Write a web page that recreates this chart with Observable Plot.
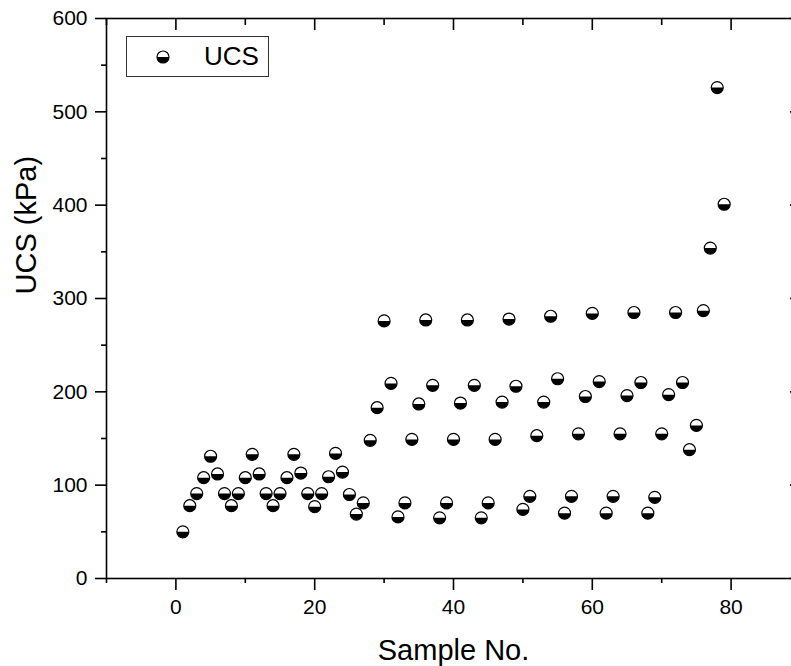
<!DOCTYPE html>
<html>
<head>
<meta charset="utf-8">
<script src="https://cdn.jsdelivr.net/npm/d3@7"></script>
<script src="https://cdn.jsdelivr.net/npm/@observablehq/plot@0.6"></script>
<style>
  html, body { margin: 0; padding: 0; background: #fff; overflow: hidden; }
  #wrap { position: relative; width: 791px; height: 666px; overflow: hidden; font-family: "Liberation Sans", Arial, sans-serif; }
  #legend { position: absolute; left: 126px; top: 36px; width: 141px; height: 39px; border: 1px solid #333; background: #fff; }
  #legend svg { position: absolute; left: 28px; top: 12px; }
  #legend span { position: absolute; left: 77px; top: 4px; font-size: 26px; line-height: 30px; color: #000; }
</style>
</head>
<body>
<div id="wrap">
  <div id="chart"></div>
  <div id="legend">
    <svg width="16" height="16" viewBox="-8 -8 16 16">
      <circle r="6" fill="#fff" stroke="#000" stroke-width="1.2"></circle>
      <path d="M6,0A6,6 0 0 1 -6,0Z" fill="#000"></path>
    </svg>
    <span>UCS</span>
  </div>
</div>
<script>
// ---- data ----
const samples = [1,2,3,4,5,6,7,8,9,10,11,12,13,14,15,16,17,18,19,20,21,22,23,24,25,26,27,28,29,30,
  31,32,33,34,35,36,37,38,39,40,41,42,43,44,45,46,47,48,49,50,51,52,53,54,55,56,57,58,59,60,
  61,62,63,64,65,66,67,68,69,70,71,72,73,74,75,76,77,78,79];
const ucsValues = [50,78,91,108,131,112,91,78,91,108,133,112,91,78,91,108,133,113,91,77,91,109,134,114,90,69,81,148,183,276,
  209,66,81,149,187,277,207,65,81,149,188,277,207,65,81,149,189,278,206,74,88,153,189,281,214,70,88,155,195,284,
  211,70,88,155,196,285,210,70,87,155,197,285,210,138,164,287,354,526,401];
const xMajorTicks = [0, 20, 40, 60, 80];
const xMinorTicks = [-10, 10, 30, 50, 70, 90];
const yMajorTicks = [0, 100, 200, 300, 400, 500, 600];
const yMinorTicks = [50, 150, 250, 350, 450, 550];
const xTitle = "Sample No.";
const yTitle = "UCS (kPa)";

const data = samples.map((s, i) => ({sample: s, ucs: ucsValues[i]}));

const lowerHalf = {
  draw(ctx, size) {
    const r = Math.sqrt(size / Math.PI);
    ctx.moveTo(r, 0);
    ctx.arc(0, 0, r, 0, Math.PI);
    ctx.closePath();
  }
};
const blank = () => "";
const font = "'Liberation Sans', Arial, sans-serif";

const chart = Plot.plot({
  width: 791,
  height: 666,
  marginLeft: 106,
  marginRight: -9,
  marginTop: 18,
  marginBottom: 88,
  style: {fontFamily: font, background: "white", color: "black"},
  x: {domain: [-10, 90]},
  y: {domain: [0, 600]},
  marks: [
    Plot.frame({stroke: "black", strokeWidth: 1.6}),
    Plot.axisX({ticks: xMajorTicks, tickSize: 12, tickPadding: 9, fontSize: 21, label: null, strokeWidth: 1.6}),
    Plot.axisX({ticks: xMinorTicks, tickSize: 5, tickFormat: blank, label: null, strokeWidth: 1.6}),
    Plot.axisX({anchor: "top", ticks: xMajorTicks, tickSize: -11, tickFormat: blank, label: null, strokeWidth: 1.6}),
    Plot.axisX({anchor: "top", ticks: xMinorTicks, tickSize: -6, tickFormat: blank, label: null, strokeWidth: 1.6}),
    Plot.axisY({ticks: yMajorTicks, tickSize: 11, tickPadding: 8, fontSize: 21, label: null, strokeWidth: 1.6}),
    Plot.axisY({ticks: yMinorTicks, tickSize: 5, tickFormat: blank, label: null, strokeWidth: 1.6}),
    Plot.axisY({anchor: "right", ticks: yMajorTicks, tickSize: -11, tickFormat: blank, label: null, strokeWidth: 1.6}),
    Plot.axisY({anchor: "right", ticks: yMinorTicks, tickSize: -6, tickFormat: blank, label: null, strokeWidth: 1.6}),
    Plot.text([xTitle], {text: d => d, frameAnchor: "bottom", lineAnchor: "top", dy: 61, fontSize: 29}),
    Plot.text([yTitle], {text: d => d, frameAnchor: "left", rotate: -90, lineAnchor: "top", dx: -91, dy: -4, fontSize: 29}),
    Plot.dot(data, {x: "sample", y: "ucs", r: 6, fill: "white", stroke: "black", strokeWidth: 1.2}),
    Plot.dot(data, {x: "sample", y: "ucs", r: 6, symbol: lowerHalf, fill: "black", stroke: "none"})
  ]
});
document.getElementById("chart").appendChild(chart);
</script>
</body>
</html>
